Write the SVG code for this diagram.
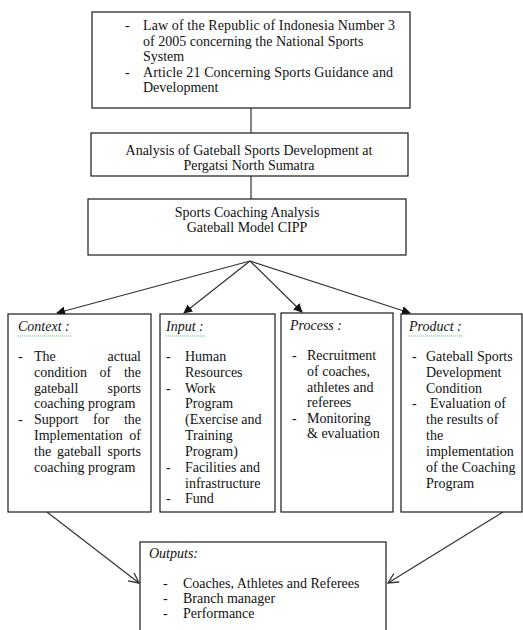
<svg xmlns="http://www.w3.org/2000/svg" width="523" height="630" viewBox="0 0 523 630">
<defs>
<style>
.box{fill:#fff;stroke:#1a1a1a;stroke-width:1.2}
.t{font-family:"Liberation Serif","Times New Roman",serif;font-size:14px;fill:#111}
.it{font-style:italic}
.e{text-anchor:end}
.m{text-anchor:middle}
.ln{stroke:#333;stroke-width:1.2;fill:none}
.sq{stroke:#5cb85c;stroke-width:1.2;stroke-dasharray:1 1;fill:none}
</style>
<marker id="af" viewBox="0 0 10 10" refX="9" refY="5" markerWidth="9" markerHeight="9" markerUnits="userSpaceOnUse" orient="auto">
<path d="M0,0 L10,5 L0,10 z" fill="#111"/>
</marker>
<marker id="ao" viewBox="0 0 12 12" refX="11" refY="6" markerWidth="12" markerHeight="12" markerUnits="userSpaceOnUse" orient="auto">
<path d="M1,1 L11,6 L1,11" fill="none" stroke="#333" stroke-width="1.3"/>
</marker>
</defs>
<rect width="523" height="630" fill="#fff"/>

<g id="connectors">
<line class="ln" x1="251" y1="108" x2="251" y2="133"/>
<line class="ln" x1="251" y1="176" x2="251" y2="199"/>
<line class="ln" x1="250" y1="261" x2="57" y2="313" marker-end="url(#af)"/>
<line class="ln" x1="250" y1="261" x2="184" y2="313" marker-end="url(#af)"/>
<line class="ln" x1="250" y1="261" x2="302" y2="312" marker-end="url(#af)"/>
<line class="ln" x1="250" y1="261" x2="410" y2="313" marker-end="url(#af)"/>
<line class="ln" x1="47" y1="512" x2="139" y2="583" marker-end="url(#ao)"/>
<line class="ln" x1="503" y1="512" x2="388" y2="583" marker-end="url(#ao)"/>
</g>

<g id="law">
<rect class="box" x="92" y="12" width="318" height="96"/>
<text class="t" x="125" y="30">-</text>
<text class="t" x="143" y="30" textLength="252" lengthAdjust="spacing">Law of the Republic of Indonesia Number 3</text>
<text class="t" x="143" y="45.5">of 2005 concerning the National Sports</text>
<text class="t" x="143" y="61">System</text>
<text class="t" x="125" y="76.5">-</text>
<text class="t" x="143" y="76.5" textLength="250" lengthAdjust="spacing">Article 21 Concerning Sports Guidance and</text>
<text class="t" x="143" y="92">Development</text>
</g>

<g id="analysis">
<rect class="box" x="91" y="133" width="317" height="43"/>
<text class="t m" x="249" y="155">Analysis of Gateball Sports Development at</text>
<text class="t m" x="249" y="170">Pergatsi North Sumatra</text>
</g>

<g id="cipp">
<rect class="box" x="88" y="199" width="318" height="56"/>
<text class="t m" x="247" y="217">Sports Coaching Analysis</text>
<text class="t m" x="247" y="232">Gateball Model CIPP</text>
</g>

<g id="context">
<rect class="box" x="8" y="314" width="143" height="198"/>
<text class="t it" x="18" y="331">Context :</text>
<path class="sq" d="M18,336 H71"/>
<text class="t" x="18" y="361">-</text>
<text class="t" x="34" y="361">The</text><text class="t e" x="141" y="361">actual</text>
<text class="t" x="34" y="377">condition</text><text class="t" x="99.5" y="377">of</text><text class="t e" x="141" y="377">the</text>
<text class="t" x="34" y="392.5">gateball</text><text class="t e" x="141" y="392.5">sports</text>
<text class="t" x="34" y="408">coaching program</text>
<text class="t" x="18" y="424">-</text>
<text class="t" x="34" y="424">Support</text><text class="t" x="93" y="424">for</text><text class="t e" x="141" y="424">the</text>
<text class="t" x="34" y="440">Implementation</text><text class="t e" x="141" y="440">of</text>
<text class="t" x="34" y="456">the</text><text class="t" x="57" y="456">gateball</text><text class="t e" x="141" y="456">sports</text>
<text class="t" x="34" y="472">coaching program</text>
</g>

<g id="input">
<rect class="box" x="160" y="314" width="115" height="198"/>
<text class="t it" x="166" y="331">Input :</text>
<path class="sq" d="M166,336 H205"/>
<text class="t" x="166" y="361">-</text>
<text class="t" x="185" y="361">Human</text>
<text class="t" x="185" y="377">Resources</text>
<text class="t" x="166" y="392.5">-</text>
<text class="t" x="185" y="392.5">Work</text>
<text class="t" x="185" y="408">Program</text>
<text class="t" x="185" y="424">(Exercise and</text>
<text class="t" x="185" y="440">Training</text>
<text class="t" x="185" y="456">Program)</text>
<text class="t" x="166" y="472">-</text>
<text class="t" x="185" y="472">Facilities and</text>
<text class="t" x="185" y="487.5">infrastructure</text>
<text class="t" x="166" y="503">-</text>
<text class="t" x="185" y="503">Fund</text>
</g>

<g id="process">
<rect class="box" x="281" y="313" width="112" height="199"/>
<text class="t it" x="290" y="330">Process :</text>
<text class="t" x="292" y="360">-</text>
<text class="t" x="307" y="360">Recruitment</text>
<text class="t" x="307" y="376">of coaches,</text>
<text class="t" x="307" y="391.5">athletes and</text>
<text class="t" x="307" y="407">referees</text>
<text class="t" x="292" y="422.5">-</text>
<text class="t" x="307" y="422.5">Monitoring</text>
<text class="t" x="307" y="438">&amp; evaluation</text>
</g>

<g id="product">
<rect class="box" x="401" y="314" width="121" height="198"/>
<text class="t it" x="409" y="331">Product :</text>
<path class="sq" d="M409,336 H462"/>
<text class="t" x="412" y="361">-</text>
<text class="t" x="426" y="361">Gateball Sports</text>
<text class="t" x="426" y="377">Development</text>
<text class="t" x="426" y="392.5">Condition</text>
<text class="t" x="412" y="408">-</text>
<text class="t" x="430" y="408">Evaluation of</text>
<text class="t" x="426" y="424">the results of</text>
<text class="t" x="426" y="440">the</text>
<text class="t" x="426" y="456">implementation</text>
<text class="t" x="426" y="472">of the Coaching</text>
<text class="t" x="426" y="487.5">Program</text>
</g>

<g id="outputs">
<rect class="box" x="140" y="542" width="246" height="100"/>
<text class="t it" x="149" y="558">Outputs:</text>
<text class="t" x="163" y="588">-</text>
<text class="t" x="183" y="588">Coaches, Athletes and Referees</text>
<text class="t" x="163" y="603">-</text>
<text class="t" x="183" y="603">Branch manager</text>
<text class="t" x="163" y="618">-</text>
<text class="t" x="183" y="618">Performance</text>
</g>
</svg>
